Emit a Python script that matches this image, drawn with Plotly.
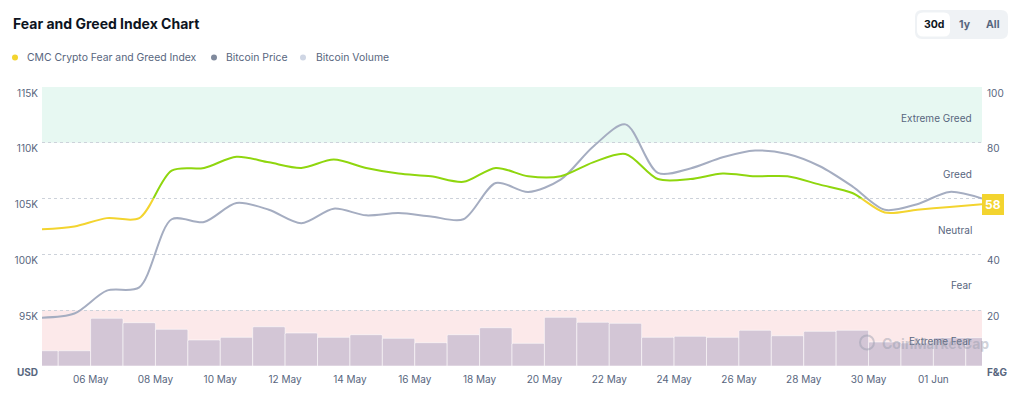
import plotly.graph_objects as go

# ---------------- data ----------------
dates = [
    "2025-05-04 12:00", "2025-05-05 12:00", "2025-05-06 12:00", "2025-05-07 12:00",
    "2025-05-08 12:00", "2025-05-09 12:00", "2025-05-10 12:00", "2025-05-11 12:00",
    "2025-05-12 12:00", "2025-05-13 12:00", "2025-05-14 12:00", "2025-05-15 12:00",
    "2025-05-16 12:00", "2025-05-17 12:00", "2025-05-18 12:00", "2025-05-19 12:00",
    "2025-05-20 12:00", "2025-05-21 12:00", "2025-05-22 12:00", "2025-05-23 12:00",
    "2025-05-24 12:00", "2025-05-25 12:00", "2025-05-26 12:00", "2025-05-27 12:00",
    "2025-05-28 12:00", "2025-05-29 12:00", "2025-05-30 12:00", "2025-05-31 12:00",
    "2025-06-01 12:00", "2025-06-02 12:00",
]
fear_greed = [49, 50, 53, 53, 70, 71, 75, 73, 71, 74, 71, 69, 68, 66, 71,
              68, 68, 73, 76, 67, 67, 69, 68, 68, 65, 62, 55, 56, 57, 58]
btc_price = [94330, 94700, 96750, 97050, 103150, 102900, 104600, 104000, 102800, 104100,
             103500, 103700, 103400, 103150, 106400, 105600, 106700, 109650, 111650, 107300,
             107700, 108700, 109300, 109000, 107900, 106100, 104000, 104500, 105600, 105000]
btc_volume_bn = [21.9, 21.9, 68.4, 62.1, 52.6, 37.3, 41.1, 56.3, 47.3, 41.1,
                 44.9, 39.7, 33.4, 44.9, 54.9, 32.5, 69.8, 62.7, 61.2, 41.1,
                 42.6, 41.1, 51.2, 43.4, 49.7, 51.2, 34.4, 33.0, 40.6, 40.6]

price_ticks = [90000, 95000, 100000, 105000, 110000, 115000]
price_labels = ["<b>USD</b>", "95K", "100K", "105K", "110K", "115K"]
fg_ticks = [0, 20, 40, 60, 80, 100]
fg_labels = ["<b>F&G</b>", "20", "40", "", "80", "100"]
zones = [(0, 20, "Extreme Fear"), (20, 40, "Fear"), (40, 60, "Neutral"),
         (60, 80, "Greed"), (80, 100, "Extreme Greed")]
legend_items = ["CMC Crypto Fear and Greed Index", "Bitcoin Price", "Bitcoin Volume"]
range_buttons = ["30d", "1y", "All"]

# ---------------- style ----------------
FONT = "Inter, Noto Sans, sans-serif"
GRAY = "#58667E"
DARK = "#0D1421"
YELLOW = "#F3D42F"
GREEN = "#8FD60E"
PRICE_C = "#A5ADC1"
SMOOTH = 0.85
W, H = 1024, 398
ML, MR, MT, MB = 42, 42, 87, 32
PW, PH = W - ML - MR, H - MT - MB


def xp(px):
    return (px - ML) / PW


def yp(py):
    return (H - MB - py) / PH


neutral_max = zones[2][1]

fig = go.Figure()
fig.add_trace(go.Bar(
    x=dates, y=[v * 1e9 for v in btc_volume_bn], yaxis="y3", width=86400000,
    marker=dict(color="#D3C6D6", line=dict(color="rgba(255,255,255,0.55)", width=1),
                cornerradius=2),
    hoverinfo="skip", showlegend=False))
fig.add_trace(go.Scatter(
    x=dates, y=btc_price, yaxis="y", mode="lines",
    line=dict(shape="spline", smoothing=SMOOTH, color=PRICE_C, width=2),
    showlegend=False))
fig.add_trace(go.Scatter(
    x=dates, y=fear_greed, yaxis="y4", mode="lines",
    line=dict(shape="spline", smoothing=SMOOTH, color=YELLOW, width=2),
    showlegend=False))
fig.add_trace(go.Scatter(
    x=dates, y=fear_greed, yaxis="y5", mode="lines",
    line=dict(shape="spline", smoothing=SMOOTH, color=GREEN, width=2),
    showlegend=False))

shapes = []
# zone bands
shapes.append(dict(type="rect", xref="paper", yref="y2", x0=0, x1=1, y0=80, y1=100,
                   fillcolor="#E7F8F2", line=dict(width=0), layer="below"))
shapes.append(dict(type="rect", xref="paper", yref="y2", x0=0, x1=1, y0=0, y1=20,
                   fillcolor="#FCE9EA", line=dict(width=0), layer="below"))

annotations = []
# title
annotations.append(dict(xref="paper", yref="paper", x=xp(11), y=yp(24), xanchor="left",
                        yanchor="middle", showarrow=False,
                        text="<b>Fear and Greed Index Chart</b>",
                        font=dict(family=FONT, size=14, color=DARK)))
# legend
leg_dot_colors = [YELLOW, "#808A9D", "#CFD6E4"]
leg_dot_x = [15, 214, 303]
leg_txt_x = [25, 224, 314]
for name, c, dx, tx in zip(legend_items, leg_dot_colors, leg_dot_x, leg_txt_x):
    shapes.append(dict(type="circle", xref="paper", yref="paper",
                       x0=xp(dx - 3), x1=xp(dx + 3), y0=yp(57.5 + 3), y1=yp(57.5 - 3),
                       fillcolor=c, line=dict(width=0)))
    annotations.append(dict(xref="paper", yref="paper", x=xp(tx), y=yp(57.5),
                            xanchor="left", yanchor="middle", showarrow=False, text=name,
                            font=dict(family=FONT, size=10.4, color=GRAY)))


# range buttons
def rrect(x0, y0, x1, y1, r):
    X0, X1 = xp(x0), xp(x1)
    Y0, Y1 = yp(y1), yp(y0)
    rx, ry = r / PW, r / PH
    return (f"M {X0+rx},{Y0} L {X1-rx},{Y0} Q {X1},{Y0} {X1},{Y0+ry} "
            f"L {X1},{Y1-ry} Q {X1},{Y1} {X1-rx},{Y1} L {X0+rx},{Y1} "
            f"Q {X0},{Y1} {X0},{Y1-ry} L {X0},{Y0+ry} Q {X0},{Y0} {X0+rx},{Y0} Z")


shapes.append(dict(type="path", xref="paper", yref="paper", path=rrect(915, 10, 1008, 39, 7),
                   fillcolor="#EFF2F5", line=dict(width=0)))
shapes.append(dict(type="path", xref="paper", yref="paper", path=rrect(917, 12.5, 950, 36.5, 6),
                   fillcolor="#FFFFFF", line=dict(width=0)))
for lbl, cx, col in zip(range_buttons, [934, 965, 993], [DARK, GRAY, GRAY]):
    annotations.append(dict(xref="paper", yref="paper", x=xp(cx), y=yp(24.5),
                            xanchor="center", yanchor="middle", showarrow=False,
                            text=f"<b>{lbl}</b>", font=dict(family=FONT, size=10.5, color=col)))

# zone labels
for lo, hi, name in zones:
    annotations.append(dict(xref="paper", yref="y2", x=xp(974), y=(lo + hi) / 2,
                            xanchor="right", yanchor="middle", yshift=-3, showarrow=False,
                            text=name, font=dict(family=FONT, size=10, color=GRAY)))

# watermark
shapes.append(dict(type="circle", xref="paper", yref="paper",
                   x0=xp(860), x1=xp(874), y0=yp(349.5), y1=yp(335.5),
                   line=dict(color="rgba(150,156,172,0.45)", width=2)))
annotations.append(dict(xref="paper", yref="paper", x=xp(880), y=yp(343),
                        xanchor="left", yanchor="middle", showarrow=False,
                        text="<b>CoinMarketCap</b>",
                        font=dict(family=FONT, size=14, color="rgba(150,156,172,0.45)")))

# last value badge
annotations.append(dict(xref="paper", yref="y2", x=1, y=fear_greed[-1], xanchor="left",
                        yanchor="middle", xshift=0, showarrow=False,
                        text=f"<b>{fear_greed[-1]}</b>", bgcolor=YELLOW, bordercolor=YELLOW,
                        borderwidth=1, borderpad=2,
                        font=dict(family=FONT, size=12, color="#FFFFFF")))

fig.update_layout(
    width=W, height=H, margin=dict(l=ML, r=MR, t=MT, b=MB),
    paper_bgcolor="#FFFFFF", plot_bgcolor="rgba(0,0,0,0)",
    showlegend=False, bargap=0,
    font=dict(family=FONT, size=10, color=GRAY),
    xaxis=dict(type="date", range=[dates[0], dates[-1]], tickformat="%d %b",
               tick0="2025-05-06", dtick=2 * 86400000, showgrid=False, showline=False,
               zeroline=False, ticks="", ticklabelstandoff=6,
               tickfont=dict(family=FONT, size=10, color=GRAY)),
    yaxis=dict(range=[price_ticks[0], price_ticks[-1]], tickvals=price_ticks,
               ticktext=price_labels, showgrid=True, gridcolor="#CDD2DA", griddash="dot",
               gridwidth=1, zeroline=False, showline=False, ticks="", ticklabelstandoff=3,
               ticklabelshift=6, tickfont=dict(family=FONT, size=10, color=GRAY)),
    yaxis2=dict(range=[0, 100], overlaying="y", side="right", tickvals=fg_ticks,
                ticktext=fg_labels, showgrid=False, zeroline=False, showline=False,
                ticks="", ticklabelstandoff=4, ticklabelshift=6,
                tickfont=dict(family=FONT, size=10, color=GRAY)),
    yaxis3=dict(range=[0, 400e9], overlaying="y", visible=False),
    yaxis4=dict(range=[0, neutral_max], domain=[0, neutral_max / 100], anchor="x",
                visible=False),
    yaxis5=dict(range=[neutral_max, 100], domain=[neutral_max / 100, 1], anchor="x",
                visible=False),
    shapes=shapes, annotations=annotations,
)

fig.write_html("out.html", config={"displayModeBar": False, "staticPlot": True},
               post_script="document.body.style.margin='0';")
